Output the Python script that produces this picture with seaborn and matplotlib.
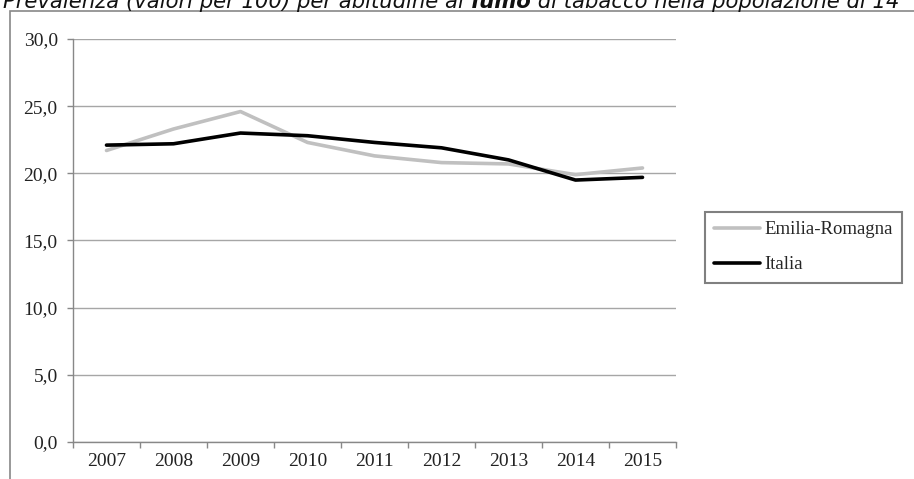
import pandas as pd
import matplotlib.pyplot as plt
import seaborn as sns
from matplotlib.ticker import FuncFormatter, FixedLocator
from matplotlib.patches import Rectangle

years = ["2007", "2008", "2009", "2010", "2011", "2012", "2013", "2014", "2015"]
emilia = [21.7, 23.3, 24.6, 22.3, 21.3, 20.8, 20.7, 19.9, 20.4]
italia = [22.1, 22.2, 23.0, 22.8, 22.3, 21.9, 21.0, 19.5, 19.7]
series = ["Emilia-Romagna", "Italia"]

df = pd.DataFrame({
    "Anno": years * 2,
    "Valore": emilia + italia,
    "Area": [series[0]] * len(years) + [series[1]] * len(years),
})

sns.set_style("white")
plt.rcParams["font.family"] = ["Liberation Serif", "DejaVu Serif"]

fig = plt.figure(figsize=(9.14, 4.79), dpi=100)
ax = fig.add_axes([73 / 914, 1 - 442 / 479, (676 - 73) / 914, (442 - 39) / 479])

sns.lineplot(
    data=df, x="Anno", y="Valore", hue="Area",
    palette={"Emilia-Romagna": "#c0c0c0", "Italia": "#000000"},
    linewidth=2.6, ax=ax, sort=False,
)

ax.set_xlim(-0.5, len(years) - 0.5)
ax.set_ylim(0, 30)
ax.set_yticks([0, 5, 10, 15, 20, 25, 30])
ax.yaxis.set_major_formatter(FuncFormatter(lambda v, p: f"{v:.1f}".replace(".", ",")))
ax.yaxis.grid(True, color="#a6a6a6", linewidth=1)
ax.set_xlabel("")
ax.set_ylabel("")

# ticks on category boundaries
ax.xaxis.set_minor_locator(FixedLocator([i - 0.5 for i in range(len(years) + 1)]))
ax.tick_params(axis="x", which="major", length=0, labelsize=14, pad=8)
ax.tick_params(axis="x", which="minor", length=4, width=1, color="#888888", bottom=True)
ax.tick_params(axis="y", length=4.5, width=1, color="#888888", labelsize=14, pad=6.5, left=True)
for lbl in ax.get_xticklabels() + ax.get_yticklabels():
    lbl.set_color("#222222")

for s in ["top", "right"]:
    ax.spines[s].set_visible(False)
for s in ["left", "bottom"]:
    ax.spines[s].set_color("#888888")
    ax.spines[s].set_linewidth(1)

h, l = ax.get_legend_handles_labels()
ax.legend(
    h, l, loc="upper left", bbox_to_anchor=(705 / 914, 1 - 212 / 479),
    bbox_transform=fig.transFigure, fontsize=13.5, frameon=True, fancybox=False,
    edgecolor="#808080", framealpha=1, handlelength=2.45, handletextpad=0.2,
    borderpad=0.5, labelspacing=0.95, borderaxespad=0,
)
ax.get_legend().get_frame().set_linewidth(1.5)

# outer frame of the chart area
fig.patches.append(Rectangle((10 / 914, -0.2), 1.2, 1.2 - 11 / 479,
                             transform=fig.transFigure, fill=False,
                             edgecolor="#888888", linewidth=1.2))

# title, partly cut at the top, with "fumo" in bold
tfont = ["DejaVu Sans"]
fig.canvas.draw()
r = fig.canvas.get_renderer()
x0, ybase = 3 / 914, 1 - 7.5 / 479
parts = [("Prevalenza (valori per 100) per abitudine al ", "normal"),
         ("fumo", "bold"),
         (" di tabacco nella popolazione di 14", "normal")]
for txt, w in parts:
    t = fig.text(x0, ybase, txt, fontsize=15.2, style="italic", weight=w,
                 family=tfont, va="baseline", ha="left", color="#111111")
    bb = t.get_window_extent(renderer=r)
    x0 += bb.width / fig.bbox.width

fig.savefig("out.png", dpi=100)
